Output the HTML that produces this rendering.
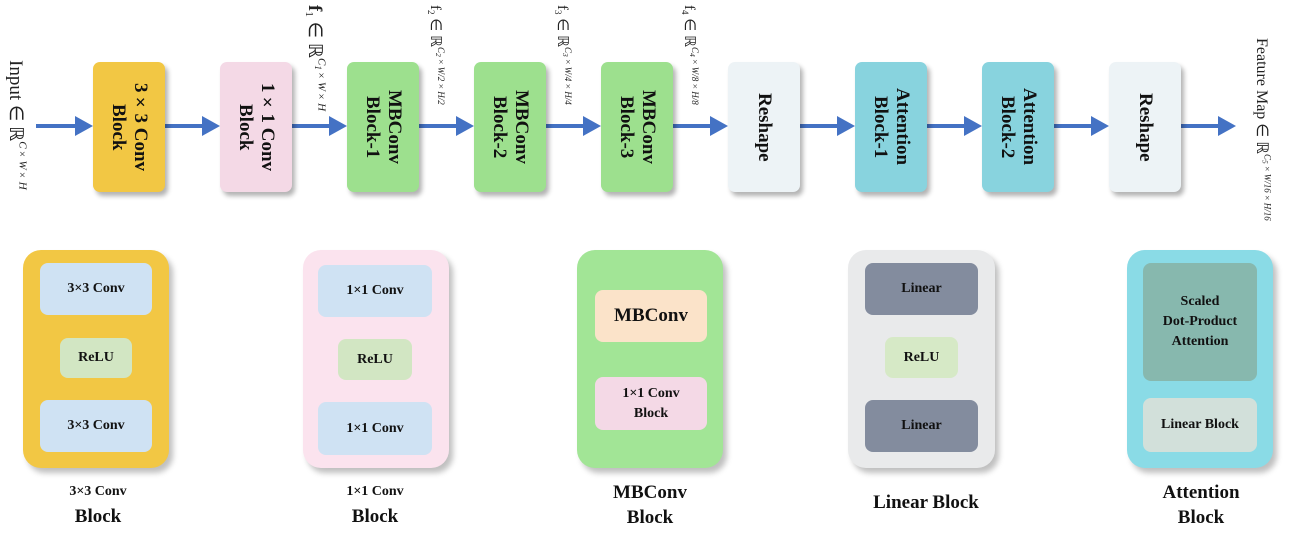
<!DOCTYPE html>
<html><head><meta charset="utf-8"><style>
body{margin:0;width:1294px;height:542px;background:#fff;position:relative;overflow:hidden;font-family:"Liberation Serif",serif;}
.a{position:absolute;}
.blk{position:absolute;top:62px;width:72px;height:130px;border-radius:7px;box-shadow:3px 4px 5px rgba(0,0,0,.3);display:flex;align-items:center;justify-content:center;}
.vt{writing-mode:vertical-rl;font-weight:bold;font-size:19px;line-height:22px;text-align:center;color:#111;}
.ln{position:absolute;top:124px;height:4px;background:#4472c4;}
.ah{position:absolute;top:116px;width:0;height:0;border-top:10px solid transparent;border-bottom:10px solid transparent;border-left:18px solid #4472c4;}
.lab{position:absolute;writing-mode:vertical-rl;font-size:15px;color:#222;white-space:nowrap;}
.pan{position:absolute;top:250px;height:218px;width:146px;border-radius:18px;box-shadow:4px 5px 6px rgba(0,0,0,.25);}
.in{position:absolute;border-radius:8px;display:flex;align-items:center;justify-content:center;text-align:center;font-weight:bold;font-size:14px;color:#111;line-height:20px;}
.cap{position:absolute;text-align:center;font-weight:bold;color:#111;}
</style></head><body>
<div class="lab" style="left:4px;top:60px;font-size:19px">Input ∈ ℝ<sup style="font-size:11px;font-style:italic">C×W×H</sup></div>
<div class="lab" style="left:303px;top:5px;font-size:19px"><b>f</b><sub style="font-size:11px">1</sub> ∈ ℝ<sup style="font-size:11px;font-style:italic">C<sub>1</sub>×W×H</sup></div>
<div class="lab" style="left:426px;top:5px;font-size:15px">f<sub style="font-size:9px">2</sub> ∈ ℝ<sup style="font-size:9px;font-style:italic">C<sub>2</sub>×W/2×H/2</sup></div>
<div class="lab" style="left:553px;top:5px;font-size:15px">f<sub style="font-size:9px">3</sub> ∈ ℝ<sup style="font-size:9px;font-style:italic">C<sub>3</sub>×W/4×H/4</sup></div>
<div class="lab" style="left:680px;top:5px;font-size:15px">f<sub style="font-size:9px">4</sub> ∈ ℝ<sup style="font-size:9px;font-style:italic">C<sub>4</sub>×W/8×H/8</sup></div>
<div class="lab" style="left:1252px;top:38px;font-size:16px">Feature Map ∈ ℝ<sup style="font-size:9px;font-style:italic">C<sub>5</sub>×W/16×H/16</sup></div>

<div class="ln" style="left:36px;width:40px"></div><div class="ah" style="left:75px"></div>
<div class="ln" style="left:165px;width:38px"></div><div class="ah" style="left:202px"></div>
<div class="ln" style="left:292px;width:38px"></div><div class="ah" style="left:329px"></div>
<div class="ln" style="left:419px;width:38px"></div><div class="ah" style="left:456px"></div>
<div class="ln" style="left:546px;width:38px"></div><div class="ah" style="left:583px"></div>
<div class="ln" style="left:673px;width:38px"></div><div class="ah" style="left:710px"></div>
<div class="ln" style="left:800px;width:38px"></div><div class="ah" style="left:837px"></div>
<div class="ln" style="left:927px;width:38px"></div><div class="ah" style="left:964px"></div>
<div class="ln" style="left:1054px;width:38px"></div><div class="ah" style="left:1091px"></div>
<div class="ln" style="left:1181px;width:38px"></div><div class="ah" style="left:1218px"></div>

<div class="blk" style="left:93px;background:#f2c744"><div class="vt">3×3 Conv<br>Block</div></div>
<div class="blk" style="left:220px;background:#f4d9e6"><div class="vt">1×1 Conv<br>Block</div></div>
<div class="blk" style="left:347px;background:#9de08e"><div class="vt">MBConv<br>Block-1</div></div>
<div class="blk" style="left:474px;background:#9de08e"><div class="vt">MBConv<br>Block-2</div></div>
<div class="blk" style="left:601px;background:#9de08e"><div class="vt">MBConv<br>Block-3</div></div>
<div class="blk" style="left:728px;background:#edf3f6"><div class="vt">Reshape</div></div>
<div class="blk" style="left:855px;background:#88d3de"><div class="vt">Attention<br>Block-1</div></div>
<div class="blk" style="left:982px;background:#88d3de"><div class="vt">Attention<br>Block-2</div></div>
<div class="blk" style="left:1109px;background:#edf3f6"><div class="vt">Reshape</div></div>

<div class="pan" style="left:23px;background:#f2c744"></div>
<div class="in" style="left:40px;top:263px;width:112px;height:52px;background:#cfe2f3">3×3 Conv</div>
<div class="in" style="left:60px;top:338px;width:72px;height:40px;background:#d2e6c3">ReLU</div>
<div class="in" style="left:40px;top:400px;width:112px;height:52px;background:#cfe2f3">3×3 Conv</div>
<div class="cap" style="left:23px;width:150px;top:484px;font-size:14px">3×3 Conv</div>
<div class="cap" style="left:23px;width:150px;top:506px;font-size:19px">Block</div>

<div class="pan" style="left:303px;background:#fbe3ee"></div>
<div class="in" style="left:318px;top:265px;width:114px;height:52px;background:#cfe2f3">1×1 Conv</div>
<div class="in" style="left:338px;top:339px;width:74px;height:41px;background:#d2e6c3">ReLU</div>
<div class="in" style="left:318px;top:402px;width:114px;height:53px;background:#cfe2f3">1×1 Conv</div>
<div class="cap" style="left:300px;width:150px;top:484px;font-size:14px">1×1 Conv</div>
<div class="cap" style="left:300px;width:150px;top:506px;font-size:19px">Block</div>

<div class="pan" style="left:577px;background:#a2e596"></div>
<div class="in" style="left:595px;top:290px;width:112px;height:52px;background:#fbe3c9;font-size:19px">MBConv</div>
<div class="in" style="left:595px;top:377px;width:112px;height:53px;background:#f4d9e6">1×1 Conv<br>Block</div>
<div class="cap" style="left:575px;width:150px;top:480px;font-size:19px;line-height:25px">MBConv<br>Block</div>

<div class="pan" style="left:848px;width:147px;background:#e9eaeb"></div>
<div class="in" style="left:865px;top:263px;width:113px;height:52px;background:#838c9e">Linear</div>
<div class="in" style="left:885px;top:337px;width:73px;height:41px;background:#d6e9c6">ReLU</div>
<div class="in" style="left:865px;top:400px;width:113px;height:52px;background:#838c9e">Linear</div>
<div class="cap" style="left:846px;width:160px;top:492px;font-size:19px">Linear Block</div>

<div class="pan" style="left:1127px;background:#8adbe6"></div>
<div class="in" style="left:1143px;top:263px;width:114px;height:118px;background:#87b8ae">Scaled<br>Dot-Product<br>Attention</div>
<div class="in" style="left:1143px;top:398px;width:114px;height:54px;background:#d2e0da">Linear Block</div>
<div class="cap" style="left:1126px;width:150px;top:480px;font-size:19px;line-height:25px">Attention<br>Block</div>
</body></html>
